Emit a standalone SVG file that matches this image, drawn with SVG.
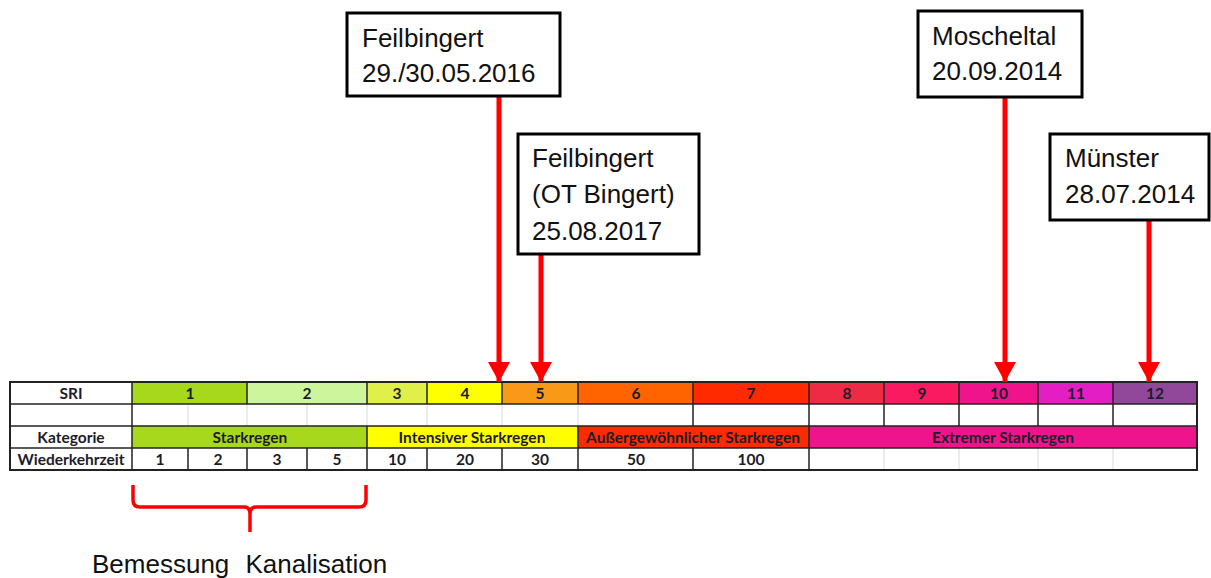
<svg xmlns="http://www.w3.org/2000/svg" width="1211" height="578" viewBox="0 0 1211 578">
<style>
.box{fill:#fff;stroke:#000;stroke-width:3}
.lbl{font-family:"Liberation Sans",Arial,sans-serif;font-size:26px;fill:#111}
.t{font-family:Lato,"Liberation Sans",sans-serif;font-weight:bold;font-size:15.5px;fill:#1c1c28;text-anchor:middle}
.g{stroke:#d8d8d8;stroke-width:1}
.k{stroke:#222;stroke-width:1.5}
.arr{stroke:#f00;stroke-width:5;fill:none}
</style>
<defs>
<marker id="ah" markerUnits="userSpaceOnUse" markerWidth="20" markerHeight="22" refX="20" refY="11" orient="auto" viewBox="0 0 20 22">
<path d="M0,0 L20,11 L0,22 Z" fill="#f00"/>
</marker>
</defs>
<rect width="1211" height="578" fill="#fff"/>

<g id="table">
<rect x="10" y="382" width="122" height="22" fill="#fff"/>
<rect x="132" y="382" width="115" height="22" fill="#a8d81c"/>
<rect x="247" y="382" width="120" height="22" fill="#ccf59c"/>
<rect x="367" y="382" width="60" height="22" fill="#e0f048"/>
<rect x="427" y="382" width="75" height="22" fill="#ffff00"/>
<rect x="502" y="382" width="76" height="22" fill="#f89a18"/>
<rect x="578" y="382" width="115" height="22" fill="#ff6400"/>
<rect x="693" y="382" width="116" height="22" fill="#ff2a00"/>
<rect x="809" y="382" width="75" height="22" fill="#ee2a44"/>
<rect x="884" y="382" width="75" height="22" fill="#fa1a62"/>
<rect x="959" y="382" width="79" height="22" fill="#f0148c"/>
<rect x="1038" y="382" width="75" height="22" fill="#e21ec4"/>
<rect x="1113" y="382" width="84" height="22" fill="#91489a"/>
<rect x="132" y="426" width="235" height="22" fill="#a8d81c"/>
<rect x="367" y="426" width="211" height="22" fill="#ffff00"/>
<rect x="578" y="426" width="231" height="22" fill="#ff2a00"/>
<rect x="809" y="426" width="388" height="22" fill="#f0148c"/>
<g class="g">
<line x1="188" y1="404" x2="188" y2="426"/><line x1="247" y1="404" x2="247" y2="426"/>
<line x1="307" y1="404" x2="307" y2="426"/><line x1="367" y1="404" x2="367" y2="426"/>
<line x1="427" y1="404" x2="427" y2="426"/><line x1="502" y1="404" x2="502" y2="426"/>
<line x1="578" y1="404" x2="578" y2="426"/>
<line x1="884" y1="448" x2="884" y2="470"/><line x1="959" y1="448" x2="959" y2="470"/>
<line x1="1038" y1="448" x2="1038" y2="470"/><line x1="1113" y1="448" x2="1113" y2="470"/>
</g>
<g class="k">
<line x1="132" y1="382" x2="132" y2="470"/>
<line x1="247" y1="382" x2="247" y2="404"/><line x1="367" y1="382" x2="367" y2="404"/>
<line x1="427" y1="382" x2="427" y2="404"/><line x1="502" y1="382" x2="502" y2="404"/>
<line x1="578" y1="382" x2="578" y2="404"/><line x1="693" y1="382" x2="693" y2="426"/>
<line x1="809" y1="382" x2="809" y2="470"/><line x1="884" y1="382" x2="884" y2="426"/>
<line x1="959" y1="382" x2="959" y2="426"/><line x1="1038" y1="382" x2="1038" y2="426"/>
<line x1="1113" y1="382" x2="1113" y2="426"/>
<line x1="367" y1="426" x2="367" y2="470"/><line x1="578" y1="426" x2="578" y2="470"/>
<line x1="188" y1="448" x2="188" y2="470"/><line x1="247" y1="448" x2="247" y2="470"/>
<line x1="307" y1="448" x2="307" y2="470"/><line x1="427" y1="448" x2="427" y2="470"/>
<line x1="502" y1="448" x2="502" y2="470"/><line x1="693" y1="448" x2="693" y2="470"/>
<line x1="10" y1="404" x2="1197" y2="404"/>
<line x1="10" y1="426" x2="1197" y2="426"/>
<line x1="10" y1="448" x2="1197" y2="448"/>
</g>
<rect x="10" y="382" width="1187" height="88" fill="none" stroke="#222" stroke-width="2"/>
<text class="t" x="71" y="399">SRI</text>
<text class="t" x="190" y="399">1</text>
<text class="t" x="307" y="399">2</text>
<text class="t" x="397" y="399">3</text>
<text class="t" x="465" y="399">4</text>
<text class="t" x="540" y="399">5</text>
<text class="t" x="636" y="399">6</text>
<text class="t" x="751" y="399">7</text>
<text class="t" x="847" y="399">8</text>
<text class="t" x="922" y="399">9</text>
<text class="t" x="999" y="399">10</text>
<text class="t" x="1076" y="399">11</text>
<text class="t" x="1155" y="399">12</text>
<text class="t" x="71" y="443">Kategorie</text>
<text class="t" x="250" y="443">Starkregen</text>
<text class="t" x="472" y="443">Intensiver Starkregen</text>
<text class="t" x="693" y="443">Außergewöhnlicher Starkregen</text>
<text class="t" x="1003" y="443">Extremer Starkregen</text>
<text class="t" x="71" y="465">Wiederkehrzeit</text>
<text class="t" x="160" y="465">1</text>
<text class="t" x="218" y="465">2</text>
<text class="t" x="277" y="465">3</text>
<text class="t" x="337" y="465">5</text>
<text class="t" x="397" y="465">10</text>
<text class="t" x="465" y="465">20</text>
<text class="t" x="540" y="465">30</text>
<text class="t" x="636" y="465">50</text>
<text class="t" x="751" y="465">100</text>
</g>

<g id="connectors">
<line class="arr" x1="499" y1="96" x2="499" y2="382" marker-end="url(#ah)"/>
<line class="arr" x1="541" y1="254" x2="541" y2="382" marker-end="url(#ah)"/>
<line class="arr" x1="1005" y1="97" x2="1005" y2="382" marker-end="url(#ah)"/>
<line class="arr" x1="1149" y1="220" x2="1149" y2="382" marker-end="url(#ah)"/>
</g>

<g id="box-feilbingert-2016">
<rect class="box" x="347" y="13" width="213" height="83"/>
<text class="lbl" x="362" y="47">Feilbingert</text>
<text class="lbl" x="362" y="82">29./30.05.2016</text>
</g>
<g id="box-feilbingert-2017">
<rect class="box" x="518" y="134" width="181" height="120"/>
<text class="lbl" x="532" y="167">Feilbingert</text>
<text class="lbl" x="532" y="203">(OT Bingert)</text>
<text class="lbl" x="532" y="240">25.08.2017</text>
</g>
<g id="box-moscheltal">
<rect class="box" x="918" y="11" width="164" height="86"/>
<text class="lbl" x="932" y="45">Moscheltal</text>
<text class="lbl" x="932" y="80">20.09.2014</text>
</g>
<g id="box-muenster">
<rect class="box" x="1050" y="134" width="159" height="86"/>
<text class="lbl" x="1065" y="167">Münster</text>
<text class="lbl" x="1065" y="203">28.07.2014</text>
</g>

<g id="brace">
<path d="M133,485 L133,500 Q133,507 140,507 L244,507 Q250,507 250,514 L250,532 M250,514 Q250,507 256,507 L359,507 Q366,507 366,500 L366,485" fill="none" stroke="#f00" stroke-width="3.5"/>
<text class="lbl" x="92" y="573" style="word-spacing:9px">Bemessung Kanalisation</text>
</g>
</svg>
